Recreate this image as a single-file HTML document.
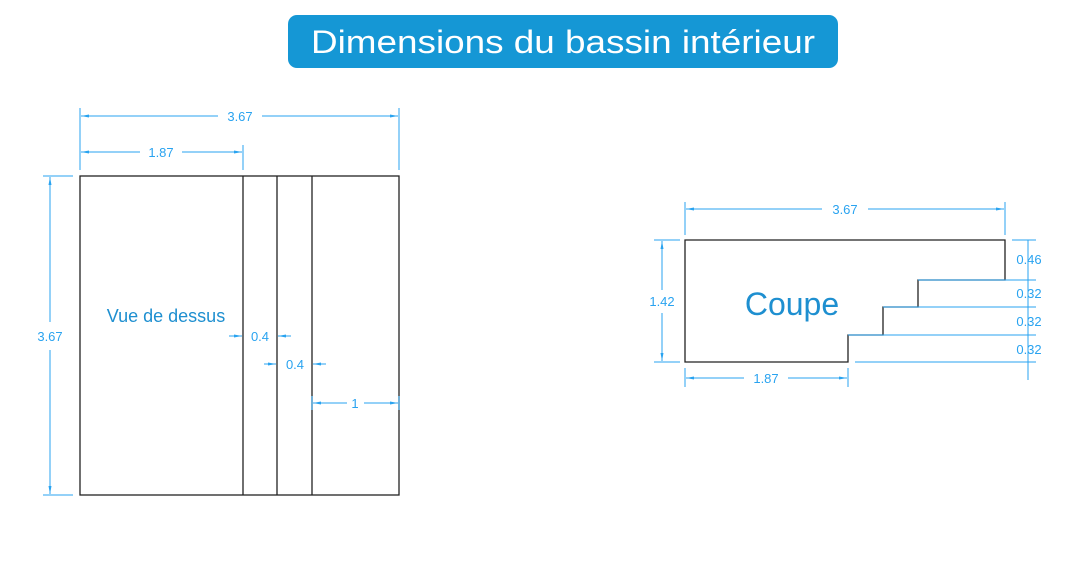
<!DOCTYPE html>
<html><head><meta charset="utf-8"><style>
html,body{margin:0;padding:0;background:#fff;}
svg{display:block;font-family:"Liberation Sans",sans-serif;}
.d{stroke:#29a3f0;stroke-width:1;fill:none;}
.k{stroke:#222;stroke-width:1.3;fill:none;}
.t{fill:#29a3f0;font-size:13px;text-anchor:middle;}
.a{fill:#29a3f0;}
</style></head><body>
<svg width="1086" height="562" viewBox="0 0 1086 562">
<defs>
<marker id="m" markerWidth="8" markerHeight="6" refX="8" refY="3" orient="auto-start-reverse" markerUnits="userSpaceOnUse"><path d="M0,1.5 L8,3 L0,4.5z" class="a"/></marker>
</defs>
<rect x="288" y="15" width="550" height="53" rx="9" fill="#1597d5"/>
<text x="563" y="53" fill="#fff" font-size="32" text-anchor="middle" textLength="504" lengthAdjust="spacingAndGlyphs">Dimensions du bassin intérieur</text>

<!-- left view -->
<rect x="80" y="176" width="319" height="319" class="k"/>
<line x1="243" y1="176" x2="243" y2="495" class="k"/>
<line x1="277" y1="176" x2="277" y2="495" class="k"/>
<line x1="312" y1="176" x2="312" y2="495" class="k"/>
<!-- ext lines -->
<line x1="80" y1="108" x2="80" y2="170" class="d"/>
<line x1="399" y1="108" x2="399" y2="170" class="d"/>
<line x1="243" y1="145" x2="243" y2="170" class="d"/>
<line x1="43" y1="176" x2="73" y2="176" class="d"/>
<line x1="43" y1="495" x2="73" y2="495" class="d"/>
<!-- 3.67 top -->
<line x1="81" y1="116" x2="218" y2="116" class="d" marker-start="url(#m)"/>
<line x1="262" y1="116" x2="398" y2="116" class="d" marker-end="url(#m)"/>
<text x="240" y="121" class="t">3.67</text>
<!-- 1.87 -->
<line x1="81" y1="152" x2="140" y2="152" class="d" marker-start="url(#m)"/>
<line x1="182" y1="152" x2="242" y2="152" class="d" marker-end="url(#m)"/>
<text x="161" y="157" class="t">1.87</text>
<!-- 3.67 vertical -->
<line x1="50" y1="177" x2="50" y2="322" class="d" marker-start="url(#m)"/>
<line x1="50" y1="350" x2="50" y2="494" class="d" marker-end="url(#m)"/>
<text x="50" y="341" class="t">3.67</text>
<!-- Vue de dessus -->
<text x="166" y="322" fill="#1e8fd0" font-size="18" text-anchor="middle">Vue de dessus</text>
<!-- 0.4 -->
<line x1="229" y1="336" x2="242" y2="336" class="d" marker-end="url(#m)"/>
<line x1="291" y1="336" x2="278" y2="336" class="d" marker-end="url(#m)"/>
<text x="260" y="341" class="t">0.4</text>
<line x1="264" y1="364" x2="276" y2="364" class="d" marker-end="url(#m)"/>
<line x1="326" y1="364" x2="313" y2="364" class="d" marker-end="url(#m)"/>
<text x="295" y="369" class="t">0.4</text>
<!-- 1 -->
<line x1="312" y1="396" x2="312" y2="410" class="d"/>
<line x1="399" y1="396" x2="399" y2="410" class="d"/>
<line x1="313" y1="403" x2="347" y2="403" class="d" marker-start="url(#m)"/>
<line x1="364" y1="403" x2="398" y2="403" class="d" marker-end="url(#m)"/>
<text x="355" y="408" class="t">1</text>

<!-- right view -->
<path d="M685,240 H1005 V280 H918 V307 H883 V335 H848 V362 H685 Z" class="k"/>
<line x1="918" y1="280" x2="1036" y2="280" class="d"/>
<line x1="883" y1="307" x2="1036" y2="307" class="d"/>
<line x1="848" y1="335" x2="1036" y2="335" class="d"/>
<line x1="855" y1="362" x2="1036" y2="362" class="d"/>
<line x1="1012" y1="240" x2="1036" y2="240" class="d"/>
<line x1="1028" y1="240" x2="1028" y2="380" class="d"/>
<text x="1029" y="264" class="t">0.46</text>
<text x="1029" y="298" class="t">0.32</text>
<text x="1029" y="326" class="t">0.32</text>
<text x="1029" y="354" class="t">0.32</text>
<!-- top dim -->
<line x1="685" y1="202" x2="685" y2="235" class="d"/>
<line x1="1005" y1="202" x2="1005" y2="235" class="d"/>
<line x1="686" y1="209" x2="822" y2="209" class="d" marker-start="url(#m)"/>
<line x1="868" y1="209" x2="1004" y2="209" class="d" marker-end="url(#m)"/>
<text x="845" y="214" class="t">3.67</text>
<!-- left dim -->
<line x1="654" y1="240" x2="680" y2="240" class="d"/>
<line x1="654" y1="362" x2="680" y2="362" class="d"/>
<line x1="662" y1="241" x2="662" y2="290" class="d" marker-start="url(#m)"/>
<line x1="662" y1="313" x2="662" y2="361" class="d" marker-end="url(#m)"/>
<text x="662" y="306" class="t">1.42</text>
<!-- Coupe -->
<text x="792" y="315" fill="#1e8fd0" font-size="32" text-anchor="middle">Coupe</text>
<!-- bottom dim -->
<line x1="685" y1="368" x2="685" y2="387" class="d"/>
<line x1="848" y1="368" x2="848" y2="387" class="d"/>
<line x1="686" y1="378" x2="744" y2="378" class="d" marker-start="url(#m)"/>
<line x1="788" y1="378" x2="847" y2="378" class="d" marker-end="url(#m)"/>
<text x="766" y="383" class="t">1.87</text>
</svg>
</body></html>
